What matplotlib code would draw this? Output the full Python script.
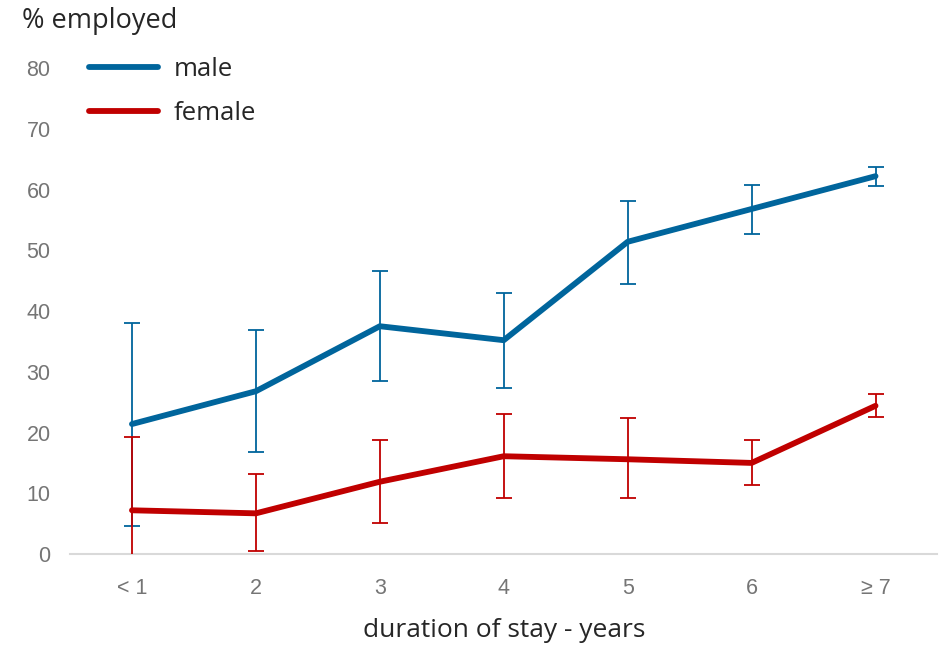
import matplotlib.pyplot as plt
import numpy as np

# Daten
kategorien = ['< 1', '2', '3', '4', '5', '6', '≥ 7']
male = [21.4, 26.8, 37.5, 35.2, 51.4, 56.8, 62.2]
male_hi = [38.0, 36.9, 46.6, 43.0, 58.1, 60.7, 63.7]
male_lo = [4.6, 16.8, 28.5, 27.3, 44.4, 52.7, 60.6]
female = [7.2, 6.7, 11.9, 16.1, 15.6, 15.0, 24.4]
female_hi = [19.3, 13.2, 18.8, 23.0, 22.4, 18.8, 26.3]
female_lo = [-4.0, 0.5, 5.1, 9.2, 9.2, 11.4, 22.6]
y_ticks = [0, 10, 20, 30, 40, 50, 60, 70, 80]

blau = '#00659c'
rot = '#c00000'
label_font = ['Open Sans', 'DejaVu Sans']

fig = plt.figure(figsize=(9.46, 6.48), dpi=100)
ax = fig.add_axes([0.074, 0.145, 0.917, 0.75])
x = np.arange(len(kategorien))

def zeichne(werte, hi, lo, farbe, name):
    werte = np.array(werte)
    err = [werte - np.array(lo), np.array(hi) - werte]
    ax.errorbar(x, werte, yerr=err, fmt='none', ecolor=farbe, elinewidth=1.3,
                capsize=6, capthick=1.3, zorder=2)
    ax.plot(x, werte, color=farbe, lw=4.2, solid_capstyle='round',
            solid_joinstyle='round', label=name, zorder=3)

zeichne(male, male_hi, male_lo, blau, 'male')
zeichne(female, female_hi, female_lo, rot, 'female')

ax.set_xlim(-0.5, 6.5)
ax.set_ylim(0, 80)
ax.set_xticks(x)
ax.set_xticklabels(kategorien)
ax.set_yticks(y_ticks)
for s in ['top', 'right', 'left']:
    ax.spines[s].set_visible(False)
ax.spines['bottom'].set_color('#d9d9d9')
ax.spines['bottom'].set_linewidth(1.5)
ax.spines['bottom'].set_zorder(1)
ax.tick_params(length=0, labelsize=15.5, labelcolor='#757575')
ax.tick_params(axis='x', pad=17)
ax.tick_params(axis='y', pad=14)
for t in ax.get_xticklabels() + ax.get_yticklabels():
    t.set_family(['Liberation Sans', 'DejaVu Sans'])

ax.set_xlabel('duration of stay - years', fontsize=19, family=label_font,
              color='#262626', labelpad=14)
fig.text(0.023, 0.968, '% employed', fontsize=19.5, family=label_font,
         color='#262626', va='center', ha='left')

leg = ax.legend(loc='upper left', bbox_to_anchor=(-0.005, 1.07), frameon=False,
                handlelength=2.7, handletextpad=0.6, labelspacing=0.75,
                prop={'family': label_font, 'size': 18.5})
for t in leg.get_texts():
    t.set_color('#262626')

fig.savefig('out.png', dpi=100)
